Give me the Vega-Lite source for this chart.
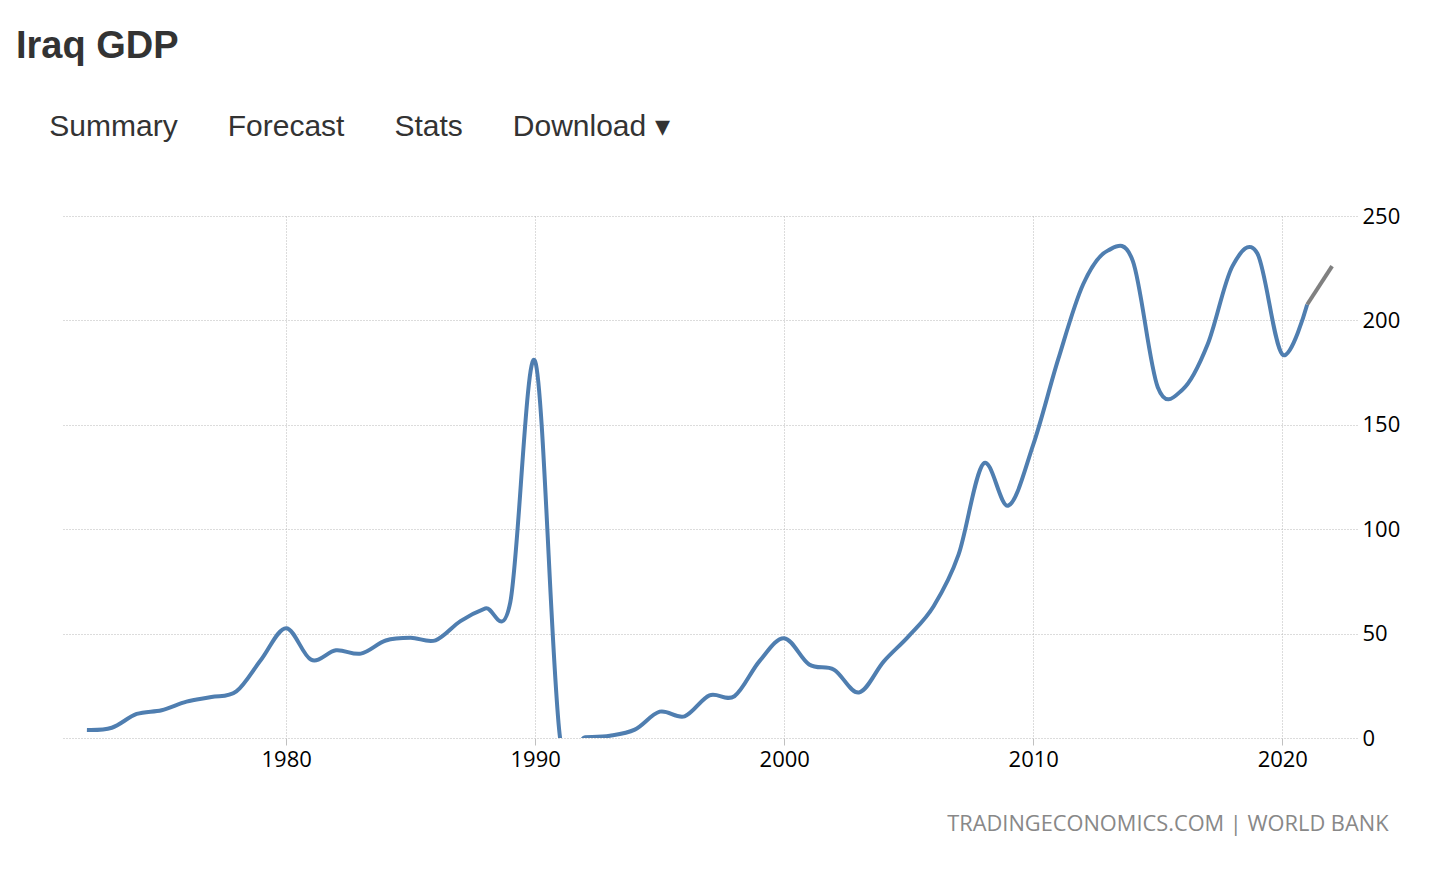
{
  "$schema": "https://vega.github.io/schema/vega-lite/v6.json",
  "width": 1295,
  "height": 522,
  "autosize": {"type": "none"},
  "padding": {"left": 62, "top": 216, "right": 96, "bottom": 147},
  "background": "white",
  "title": {
    "text": "Iraq GDP",
    "subtitle": "\u200b\u00a0\u00a0\u00a0\u00a0Summary\u00a0\u00a0\u00a0\u00a0\u00a0\u00a0Forecast\u00a0\u00a0\u00a0\u00a0\u00a0\u00a0Stats\u00a0\u00a0\u00a0\u00a0\u00a0\u00a0Download\u00a0\u25BE",
    "anchor": "start",
    "frame": "group",
    "dx": -46,
    "dy": -3,
    "offset": 60,
    "font": "Liberation Sans",
    "fontSize": 38,
    "fontWeight": "bold",
    "color": "#333333",
    "subtitleFont": "Liberation Sans",
    "subtitleFontSize": 30,
    "subtitleColor": "#333333",
    "subtitlePadding": 46
  },
  "config": {"view": {"stroke": null}},
  "data": {
    "values": [
      {"year": 1972, "gdp": 3.8},
      {"year": 1973, "gdp": 4.9},
      {"year": 1974, "gdp": 11.5},
      {"year": 1975, "gdp": 13.3},
      {"year": 1976, "gdp": 17.4},
      {"year": 1977, "gdp": 19.6},
      {"year": 1978, "gdp": 22.3},
      {"year": 1979, "gdp": 37.6},
      {"year": 1980, "gdp": 52.6},
      {"year": 1981, "gdp": 37.5},
      {"year": 1982, "gdp": 42.0},
      {"year": 1983, "gdp": 40.4},
      {"year": 1984, "gdp": 46.7},
      {"year": 1985, "gdp": 48.0},
      {"year": 1986, "gdp": 46.8},
      {"year": 1987, "gdp": 56.0},
      {"year": 1988, "gdp": 62.1},
      {"year": 1989, "gdp": 65.0},
      {"year": 1990, "gdp": 180.4},
      {"year": 1991, "gdp": 0.0},
      {"year": 1992, "gdp": 0.4},
      {"year": 1993, "gdp": 1.1},
      {"year": 1994, "gdp": 4.0},
      {"year": 1995, "gdp": 12.6},
      {"year": 1996, "gdp": 10.4},
      {"year": 1997, "gdp": 20.4},
      {"year": 1998, "gdp": 20.0},
      {"year": 1999, "gdp": 36.7},
      {"year": 2000, "gdp": 47.8},
      {"year": 2001, "gdp": 35.2},
      {"year": 2002, "gdp": 32.7},
      {"year": 2003, "gdp": 21.8},
      {"year": 2004, "gdp": 36.7},
      {"year": 2005, "gdp": 48.8},
      {"year": 2006, "gdp": 63.1},
      {"year": 2007, "gdp": 87.8},
      {"year": 2008, "gdp": 131.4},
      {"year": 2009, "gdp": 111.3},
      {"year": 2010, "gdp": 140.5},
      {"year": 2011, "gdp": 181.3},
      {"year": 2012, "gdp": 217.2},
      {"year": 2013, "gdp": 233.5},
      {"year": 2014, "gdp": 228.4},
      {"year": 2015, "gdp": 168.0},
      {"year": 2016, "gdp": 166.9},
      {"year": 2017, "gdp": 188.4},
      {"year": 2018, "gdp": 226.0},
      {"year": 2019, "gdp": 232.0},
      {"year": 2020, "gdp": 183.7},
      {"year": 2021, "gdp": 207.6},
      {"year": 2022, "gdp": 226.0}
    ]
  },
  "encoding": {
    "x": {
      "field": "year",
      "type": "quantitative",
      "scale": {"domain": [1971, 2023], "nice": false, "zero": false},
      "axis": {
        "values": [1980, 1990, 2000, 2010, 2020],
        "format": "d",
        "domain": false,
        "ticks": true,
        "tickSize": 7,
        "tickColor": "#c0c0c0",
        "tickWidth": 1,
        "grid": true,
        "gridColor": "#b8b8b8",
        "gridDash": [1, 2],
        "gridWidth": 1,
        "labelFont": "Open Sans",
        "labelFontSize": 22,
        "labelColor": "#000000",
        "labelPadding": 4,
        "title": "TRADINGECONOMICS.COM | WORLD BANK",
        "titleFont": "Open Sans",
        "titleFontSize": 21.8,
        "titleFontWeight": "normal",
        "titleColor": "#888888",
        "titleAnchor": "end",
        "titleAlign": "right",
        "titleBaseline": "alphabetic",
        "titleX": 1326,
        "titleY": 92
      }
    },
    "y": {
      "field": "gdp",
      "type": "quantitative",
      "scale": {"domain": [0, 250], "nice": false},
      "axis": {
        "orient": "right",
        "values": [0, 50, 100, 150, 200, 250],
        "domain": false,
        "ticks": false,
        "grid": true,
        "gridColor": "#b8b8b8",
        "gridDash": [1, 2],
        "gridWidth": 1,
        "labelFont": "Open Sans",
        "labelFontSize": 22,
        "labelColor": "#000000",
        "labelPadding": 5,
        "labelAlign": "left",
        "title": null
      }
    }
  },
  "layer": [
    {
      "transform": [{"filter": "datum.year <= 2021"}],
      "mark": {"type": "line", "interpolate": "cardinal", "color": "#4f7eb0", "strokeWidth": 4, "clip": true}
    },
    {
      "transform": [{"filter": "datum.year >= 2021"}],
      "mark": {"type": "line", "color": "#808080", "strokeWidth": 4, "clip": true}
    }
  ]
}
